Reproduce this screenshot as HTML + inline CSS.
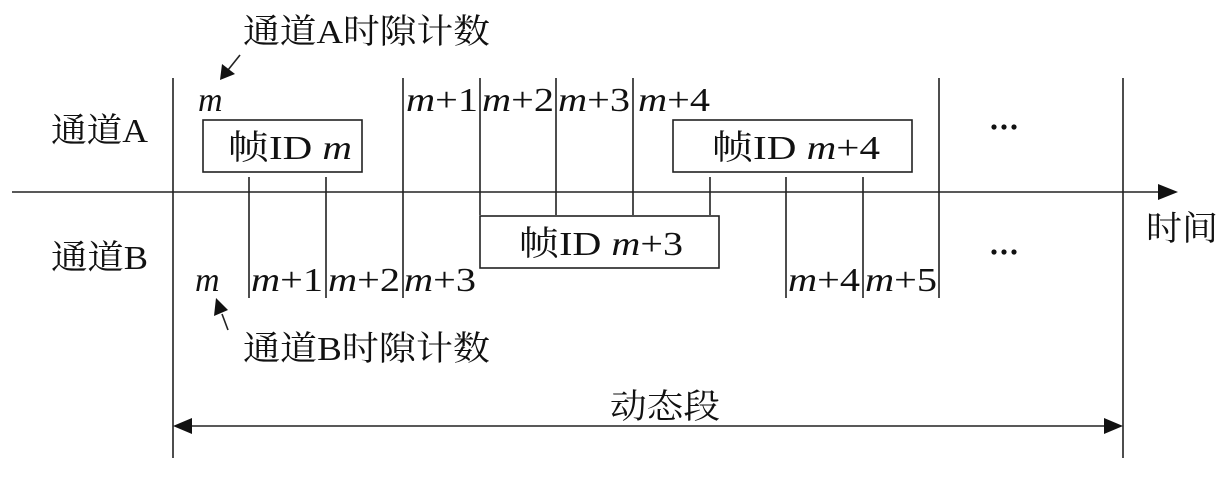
<!DOCTYPE html>
<html><head><meta charset="utf-8"><style>
html,body{margin:0;padding:0;background:#fff}
svg{display:block}
.c{font-family:"Liberation Serif","Noto Serif CJK SC",serif;font-size:34px;fill:#111}
.m{font-family:"Liberation Serif",serif;font-size:34px;fill:#111}
.i{font-style:italic}
</style></head><body>
<svg width="1228" height="483" viewBox="0 0 1228 483" xmlns="http://www.w3.org/2000/svg">
<g stroke="#222" stroke-width="1.6" fill="none">
<line x1="12" y1="192" x2="1165" y2="192"/>
<line x1="173" y1="78" x2="173" y2="458"/>
<line x1="1123" y1="78" x2="1123" y2="458"/>
<line x1="403" y1="78" x2="403" y2="298"/>
<line x1="939" y1="78" x2="939" y2="298"/>
<line x1="480" y1="78" x2="480" y2="215"/>
<line x1="556" y1="78" x2="556" y2="215"/>
<line x1="633" y1="78" x2="633" y2="215"/>
<line x1="710" y1="177" x2="710" y2="215"/>
<line x1="249" y1="177" x2="249" y2="298"/>
<line x1="326" y1="177" x2="326" y2="298"/>
<line x1="786" y1="177" x2="786" y2="298"/>
<line x1="863" y1="177" x2="863" y2="298"/>
<rect x="203" y="120" width="159" height="52"/>
<rect x="673" y="120" width="239" height="52"/>
<rect x="480" y="216" width="239" height="52"/>
<line x1="188" y1="426" x2="1108" y2="426"/>
<line x1="240" y1="55" x2="228" y2="70"/>
<line x1="228" y1="330" x2="222" y2="314"/>
</g>
<g fill="#111">
<polygon points="1178,192 1158,184 1158,200"/>
<polygon points="173,426 192,418 192,434"/>
<polygon points="1123,426 1104,418 1104,434"/>
<polygon points="220,80 222,64 235,74"/>
<polygon points="216,298 214,316 228,310"/>
<circle cx="994" cy="127" r="2.6"/><circle cx="1004" cy="127" r="2.6"/><circle cx="1014" cy="127" r="2.6"/>
<circle cx="994" cy="252" r="2.6"/><circle cx="1004" cy="252" r="2.6"/><circle cx="1014" cy="252" r="2.6"/>
</g>
<text class="c" x="243" y="43" textLength="247" lengthAdjust="spacingAndGlyphs">通道A时隙计数</text>
<text class="c" x="243" y="360" textLength="247" lengthAdjust="spacingAndGlyphs">通道B时隙计数</text>
<text class="c" x="51" y="142" textLength="97" lengthAdjust="spacingAndGlyphs">通道A</text>
<text class="c" x="51" y="269" textLength="97" lengthAdjust="spacingAndGlyphs">通道B</text>
<text class="c" x="1146" y="240" textLength="72" lengthAdjust="spacingAndGlyphs">时间</text>
<text class="c" x="610" y="418" textLength="110" lengthAdjust="spacingAndGlyphs">动态段</text>
<g class="m">
<text x="198" y="111" class="i">m</text>
<text x="406" y="111" textLength="72" lengthAdjust="spacingAndGlyphs"><tspan class="i">m</tspan>+1</text>
<text x="482" y="111" textLength="72" lengthAdjust="spacingAndGlyphs"><tspan class="i">m</tspan>+2</text>
<text x="558" y="111" textLength="72" lengthAdjust="spacingAndGlyphs"><tspan class="i">m</tspan>+3</text>
<text x="638" y="111" textLength="72" lengthAdjust="spacingAndGlyphs"><tspan class="i">m</tspan>+4</text>
<text x="195" y="291" class="i">m</text>
<text x="251" y="291" textLength="72" lengthAdjust="spacingAndGlyphs"><tspan class="i">m</tspan>+1</text>
<text x="328" y="291" textLength="72" lengthAdjust="spacingAndGlyphs"><tspan class="i">m</tspan>+2</text>
<text x="404" y="291" textLength="72" lengthAdjust="spacingAndGlyphs"><tspan class="i">m</tspan>+3</text>
<text x="788" y="291" textLength="72" lengthAdjust="spacingAndGlyphs"><tspan class="i">m</tspan>+4</text>
<text x="865" y="291" textLength="72" lengthAdjust="spacingAndGlyphs"><tspan class="i">m</tspan>+5</text>
</g>
<text class="c" x="228" y="159" textLength="124" lengthAdjust="spacingAndGlyphs">帧ID <tspan class="i">m</tspan></text>
<text class="c" x="712" y="159" textLength="168" lengthAdjust="spacingAndGlyphs">帧ID <tspan class="i">m</tspan>+4</text>
<text class="c" x="519" y="255" textLength="164" lengthAdjust="spacingAndGlyphs">帧ID <tspan class="i">m</tspan>+3</text>
</svg>
</body></html>
